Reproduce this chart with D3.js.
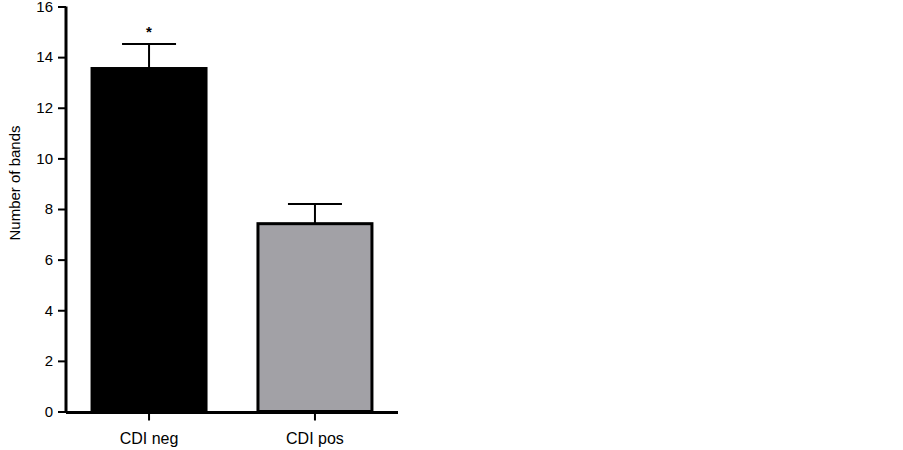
<!DOCTYPE html>
<html>
<head>
<meta charset="utf-8">
<script src="https://cdn.jsdelivr.net/npm/d3@7"></script>
<style>
  body { margin: 0; background: #fff; }
  text { font-family: "Liberation Sans", Arial, sans-serif; }
</style>
</head>
<body>
<div id="chart"></div>
<script>
(function() {
  // data
  var groups = ["CDI neg", "CDI pos"];
  var means = [13.55, 7.42];
  var errors = [0.97, 0.78];
  var colors = ["#000000", "#a2a1a6"];
  var marks = ["*", ""];
  var yTicks = [0, 2, 4, 6, 8, 10, 12, 14, 16];

  var width = 903;
  var height = 450;

  var svg = d3.select("#chart")
    .append("svg")
    .attr("width", width)
    .attr("height", height);

  // plot area
  var left = 66, right = 398, top = 6.5, bottom = 411.5;

  var y = d3.scaleLinear()
    .domain([0, 16])
    .range([bottom, top]);

  var x = d3.scaleBand()
    .domain(groups)
    .range([left, right])
    .paddingInner(0.313)
    .paddingOuter(0.157);

  // bars
  svg.selectAll("rect.bar")
    .data(groups)
    .enter()
    .append("rect")
    .attr("class", "bar")
    .attr("x", function(d) { return x(d); })
    .attr("y", function(d, i) { return y(means[i]); })
    .attr("width", x.bandwidth())
    .attr("height", function(d, i) { return y(0) - y(means[i]); })
    .attr("fill", function(d, i) { return colors[i]; })
    .attr("stroke", "#000")
    .attr("stroke-width", 3);

  // error bars (upper only)
  var capHalf = 27;
  var err = svg.append("g");
  groups.forEach(function(g, i) {
    var cx = x(g) + x.bandwidth() / 2;
    err.append("line")
      .attr("x1", cx).attr("x2", cx)
      .attr("y1", y(means[i])).attr("y2", y(means[i] + errors[i]))
      .attr("stroke", "#000").attr("stroke-width", 2);
    err.append("line")
      .attr("x1", cx - capHalf).attr("x2", cx + capHalf)
      .attr("y1", y(means[i] + errors[i])).attr("y2", y(means[i] + errors[i]))
      .attr("stroke", "#000").attr("stroke-width", 2);
    if (marks[i]) {
      err.append("text")
        .attr("x", cx)
        .attr("y", y(means[i] + errors[i]) - 7)
        .attr("text-anchor", "middle")
        .attr("font-size", 15)
        .attr("font-weight", "bold")
        .text(marks[i]);
    }
  });

  // y axis
  var yAxis = svg.append("g")
    .attr("transform", "translate(" + left + ",0)")
    .call(d3.axisLeft(y).tickValues(yTicks).tickSize(8).tickPadding(5));
  yAxis.select(".domain").attr("stroke-width", 3).attr("d", "M0," + (bottom + 1.5) + "V" + top);
  yAxis.selectAll(".tick line").attr("stroke-width", 2);
  yAxis.selectAll(".tick text")
    .attr("font-size", 15)
    .attr("fill", "#000")
    .style("font-family", "Liberation Sans, Arial, sans-serif");

  // x axis
  var xAxis = svg.append("g")
    .attr("transform", "translate(0," + (bottom + 1) + ")")
    .call(d3.axisBottom(x).tickSize(8).tickPadding(12));
  xAxis.select(".domain").attr("stroke-width", 3).attr("d", "M" + left + ",0H" + right);
  xAxis.selectAll(".tick line").attr("stroke-width", 2);
  xAxis.selectAll(".tick text")
    .attr("font-size", 16)
    .attr("fill", "#000")
    .style("font-family", "Liberation Sans, Arial, sans-serif");

  // y label
  svg.append("text")
    .attr("transform", "translate(20,183) rotate(-90)")
    .attr("text-anchor", "middle")
    .attr("font-size", 15)
    .text("Number of bands");
})();
</script>
</body>
</html>
